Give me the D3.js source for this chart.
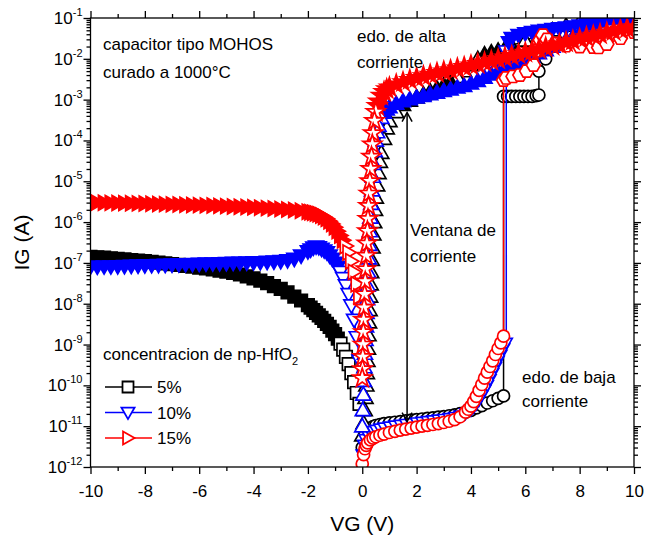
<!DOCTYPE html>
<html>
<head>
<meta charset="utf-8">
<script src="https://cdn.jsdelivr.net/npm/d3@7"></script>
<style>
  body { margin: 0; background: #fff; }
  svg { display: block; font-family: "Liberation Sans", Arial, sans-serif; }
</style>
</head>
<body>
<svg id="chart"></svg>
<script>
/* ---------- data (VG in V, IG in A) ---------- */

const x_ticks = [-10, -8, -6, -4, -2, 0, 2, 4, 6, 8, 10];
const y_exponents = [-12, -11, -10, -9, -8, -7, -6, -5, -4, -3, -2, -1];

const legend_items = [
  { label: "5%", color: "#000000", marker: "square" },
  { label: "10%", color: "#0000ff", marker: "tri_down" },
  { label: "15%", color: "#ff0000", marker: "tri_right" }
];

// 5 % -- negative sweep
const black_neg = [[-10,1.4e-7],[-9.75,1.37e-7],[-9.5,1.34e-7],[-9.25,1.3e-7],[-9,1.26e-7],[-8.75,1.22e-7],[-8.5,1.18e-7],[-8.25,1.14e-7],[-8,1.1e-7],[-7.75,1.06e-7],[-7.5,1.02e-7],[-7.25,9.7e-8],[-7,9.3e-8],[-6.75,8.9e-8],[-6.5,8.5e-8],[-6.25,8.1e-8],[-6,7.7e-8],[-5.75,7.3e-8],[-5.5,6.9e-8],[-5.25,6.5e-8],[-5,6.1e-8],[-4.75,5.7e-8],[-4.5,5.2e-8],[-4.25,4.7e-8],[-4,4.2e-8],[-3.75,3.7e-8],[-3.5,3.2e-8],[-3.25,2.7e-8],[-3,2.3e-8],[-2.75,1.9e-8],[-2.5,1.5e-8],[-2.25,1.2e-8],[-2,9.2e-9],[-1.9,8e-9],[-1.8,7e-9],[-1.7,6e-9],[-1.6,5.2e-9],[-1.5,4.5e-9],[-1.4,3.8e-9],[-1.3,3.2e-9],[-1.2,2.7e-9],[-1.1,2.2e-9],[-1,1.8e-9],[-0.9,1.4e-9],[-0.8,1.05e-9],[-0.7,7.5e-10],[-0.6,5e-10],[-0.5,3.3e-10],[-0.4,2e-10],[-0.3,1.2e-10],[-0.2,6.5e-11],[-0.1,3.5e-11]];
// 5 % -- low current state, positive sweep
const black_low = [[0,3e-12],[0.05,5e-12],[0.1,6.5e-12],[0.2,8e-12],[0.3,9e-12],[0.4,9.8e-12],[0.5,1.04e-11],[0.65,1.1e-11],[0.8,1.15e-11],[1,1.2e-11],[1.2,1.25e-11],[1.4,1.3e-11],[1.6,1.35e-11],[1.8,1.4e-11],[2,1.45e-11],[2.2,1.5e-11],[2.4,1.55e-11],[2.6,1.6e-11],[2.8,1.66e-11],[3,1.72e-11],[3.2,1.8e-11],[3.4,1.9e-11],[3.6,2.02e-11],[3.8,2.2e-11],[4,2.45e-11],[4.2,2.8e-11],[4.4,3.2e-11],[4.6,3.7e-11],[4.8,4.2e-11],[5,4.8e-11],[5.2,5.5e-11]];
// 5 % -- after switching
const black_high = [[5.2,1.2e-3],[5.35,1.2e-3],[5.5,1.2e-3],[5.65,1.2e-3],[5.8,1.2e-3],[5.95,1.2e-3],[6.1,1.2e-3],[6.25,1.2e-3],[6.4,1.25e-3],[6.5,1.3e-3],[6.5,5e-3],[6.75,1e-2],[7,2e-2],[7.5,4e-2],[8,6e-2],[8.5,8.5e-2],[9,1e-1],[9.5,1e-1],[10,1e-1]];
// 5 % -- return sweep 10 V -> 0 V
const black_ret = [[10,1e-1],[9.5,1e-1],[9,1e-1],[8.5,9.5e-2],[8,8e-2],[7.5,6.5e-2],[7,5e-2],[6.5,3.8e-2],[6,2.8e-2],[5.5,2.1e-2],[5.25,1.8e-2],[5,1.6e-2],[4.75,1.45e-2],[4.5,1.3e-2],[4.25,1e-2],[4,7e-3],[3.75,5e-3],[3.5,3.6e-3],[3.25,2.8e-3],[3,2.3e-3],[2.75,1.9e-3],[2.5,1.6e-3],[2.25,1.35e-3],[2,1.15e-3],[1.75,9.5e-4],[1.5,7.5e-4],[1.25,5e-4],[1,3e-4],[0.9,2e-4],[0.8,1.1e-4],[0.7,5e-5],[0.65,3e-5],[0.6,1.6e-5],[0.55,8e-6],[0.5,4e-6],[0.47,2e-6],[0.44,1e-6],[0.41,5e-7],[0.38,2.4e-7],[0.35,1.2e-7],[0.33,6e-8],[0.31,3e-8],[0.29,1.5e-8],[0.27,7e-9],[0.25,3.5e-9],[0.23,1.7e-9],[0.21,8e-10],[0.19,4e-10],[0.17,2e-10],[0.15,1e-10],[0.12,5e-11],[0.09,2.5e-11],[0.05,1.2e-11],[0,6e-12]];

// 10 %
const blue_neg = [[-10,8e-8],[-9.75,8e-8],[-9.5,8.1e-8],[-9.25,8.1e-8],[-9,8.2e-8],[-8.75,8.3e-8],[-8.5,8.4e-8],[-8.25,8.5e-8],[-8,8.6e-8],[-7.75,8.7e-8],[-7.5,8.8e-8],[-7.25,8.9e-8],[-7,9e-8],[-6.75,9.1e-8],[-6.5,9.2e-8],[-6.25,9.3e-8],[-6,9.4e-8],[-5.75,9.5e-8],[-5.5,9.6e-8],[-5.25,9.7e-8],[-5,9.8e-8],[-4.75,9.9e-8],[-4.5,1e-7],[-4.25,1.01e-7],[-4,1.02e-7],[-3.75,1.03e-7],[-3.5,1.05e-7],[-3.25,1.07e-7],[-3,1.1e-7],[-2.75,1.15e-7],[-2.5,1.25e-7],[-2.25,1.5e-7],[-2,1.9e-7],[-1.9,2.1e-7],[-1.8,2.35e-7],[-1.7,2.5e-7],[-1.6,2.4e-7],[-1.5,2.2e-7],[-1.4,2e-7],[-1.3,1.8e-7],[-1.2,1.5e-7],[-1.1,1.25e-7],[-1,1e-7],[-0.9,8e-8],[-0.8,6e-8],[-0.7,4.2e-8],[-0.6,2.8e-8],[-0.5,1.7e-8],[-0.4,9e-9],[-0.3,4e-9],[-0.2,1.5e-9],[-0.1,4e-10]];
const blue_low = [[0,2e-12],[0.05,3.5e-12],[0.1,4.8e-12],[0.2,6e-12],[0.3,7e-12],[0.4,7.6e-12],[0.5,8.1e-12],[0.65,8.7e-12],[0.8,9.2e-12],[1,9.8e-12],[1.2,1.03e-11],[1.4,1.08e-11],[1.6,1.13e-11],[1.8,1.18e-11],[2,1.23e-11],[2.2,1.28e-11],[2.4,1.33e-11],[2.6,1.38e-11],[2.8,1.44e-11],[3,1.5e-11],[3.2,1.58e-11],[3.4,1.68e-11],[3.6,1.82e-11],[3.8,2.05e-11],[4,2.5e-11],[4.1,2.9e-11],[4.2,3.5e-11],[4.3,4.4e-11],[4.4,5.7e-11],[4.5,7.5e-11],[4.6,1e-10],[4.7,1.4e-10],[4.8,2e-10],[4.9,2.8e-10],[5,4e-10],[5.1,5.6e-10],[5.2,8e-10],[5.3,1.1e-9]];
const blue_high = [[5.3,1.5e-2],[5.4,2.5e-2],[5.5,3.2e-2],[5.75,3.8e-2],[6,4.2e-2],[6.25,4.5e-2],[6.5,4.8e-2],[6.75,5e-2],[7,5.3e-2],[7.25,5.5e-2],[7.5,5.8e-2],[7.75,6.1e-2],[8,6.5e-2],[8.25,7.2e-2],[8.5,8e-2],[8.75,9e-2],[9,1e-1],[9.5,1e-1],[10,1e-1]];
const blue_ret = [[10,1e-1],[9.75,1e-1],[9.5,1e-1],[9.25,1e-1],[9,9.5e-2],[8.75,8e-2],[8.5,6.5e-2],[8.25,5.3e-2],[8,4.3e-2],[7.75,3.5e-2],[7.5,2.9e-2],[7.25,2.4e-2],[7,2e-2],[6.75,1.65e-2],[6.5,1.38e-2],[6.25,1.15e-2],[6,9.5e-3],[5.75,8e-3],[5.5,6.8e-3],[5.25,5.8e-3],[5,5e-3],[4.75,4.2e-3],[4.5,3.5e-3],[4.25,2.9e-3],[4,2.5e-3],[3.75,2.2e-3],[3.5,2e-3],[3.25,1.8e-3],[3,1.65e-3],[2.75,1.5e-3],[2.5,1.38e-3],[2.25,1.25e-3],[2,1.14e-3],[1.75,1.03e-3],[1.5,9.2e-4],[1.25,8e-4],[1,6.6e-4],[0.9,5.8e-4],[0.8,4.8e-4],[0.7,3.6e-4],[0.6,2.3e-4],[0.55,1.6e-4],[0.5,1e-4],[0.46,5.5e-5],[0.42,2.7e-5],[0.39,1.3e-5],[0.36,6e-6],[0.33,2.8e-6],[0.3,1.3e-6],[0.28,6e-7],[0.26,2.8e-7],[0.24,1.3e-7],[0.22,6e-8],[0.2,2.8e-8],[0.18,1.3e-8],[0.16,6e-9],[0.14,2.8e-9],[0.12,1.3e-9],[0.1,6e-10],[0.08,2.8e-10],[0.06,1.3e-10],[0.04,6e-11],[0.02,2.5e-11],[0,1e-11]];

// 15 %
const red_neg = [[-10,3e-6],[-9.75,3e-6],[-9.5,2.98e-6],[-9.25,2.96e-6],[-9,2.94e-6],[-8.75,2.92e-6],[-8.5,2.9e-6],[-8.25,2.87e-6],[-8,2.84e-6],[-7.75,2.81e-6],[-7.5,2.78e-6],[-7.25,2.75e-6],[-7,2.72e-6],[-6.75,2.69e-6],[-6.5,2.66e-6],[-6.25,2.63e-6],[-6,2.6e-6],[-5.75,2.57e-6],[-5.5,2.54e-6],[-5.25,2.5e-6],[-5,2.46e-6],[-4.75,2.42e-6],[-4.5,2.38e-6],[-4.25,2.34e-6],[-4,2.3e-6],[-3.75,2.25e-6],[-3.5,2.2e-6],[-3.25,2.15e-6],[-3,2.1e-6],[-2.75,2.04e-6],[-2.5,1.97e-6],[-2.25,1.9e-6],[-2,1.8e-6],[-1.9,1.75e-6],[-1.8,1.7e-6],[-1.7,1.63e-6],[-1.6,1.55e-6],[-1.5,1.45e-6],[-1.4,1.33e-6],[-1.3,1.2e-6],[-1.2,1.05e-6],[-1.1,9e-7],[-1,7.5e-7],[-0.9,6e-7],[-0.8,4.7e-7],[-0.7,3.6e-7],[-0.6,2.6e-7],[-0.5,1.8e-7],[-0.4,1.1e-7],[-0.3,6e-8],[-0.2,3e-8],[-0.1,1.5e-8]];
const red_low = [[0,1.2e-12],[0.05,2e-12],[0.1,2.8e-12],[0.15,3.4e-12],[0.2,3.9e-12],[0.3,4.6e-12],[0.4,5.1e-12],[0.5,5.5e-12],[0.65,6e-12],[0.8,6.4e-12],[1,7e-12],[1.2,7.5e-12],[1.4,8e-12],[1.6,8.5e-12],[1.8,9e-12],[2,9.5e-12],[2.2,1e-11],[2.4,1.05e-11],[2.6,1.1e-11],[2.8,1.16e-11],[3,1.23e-11],[3.2,1.32e-11],[3.4,1.45e-11],[3.6,1.7e-11],[3.8,2.2e-11],[3.9,2.6e-11],[4,3.1e-11],[4.1,4e-11],[4.2,5.4e-11],[4.3,7.5e-11],[4.4,1.05e-10],[4.5,1.5e-10],[4.6,2.1e-10],[4.7,2.9e-10],[4.8,4e-10],[4.9,5.7e-10],[5,8e-10],[5.1,1.1e-9],[5.2,1.6e-9]];
const red_high = [[5.2,3e-3],[5.3,3.4e-3],[5.55,3.7e-3],[5.8,4e-3],[6.05,5e-3],[6.3,7e-3],[6.45,1.6e-2],[6.55,2.9e-2],[6.65,3.8e-2],[6.8,3e-2],[7.1,2.4e-2],[7.5,2.1e-2],[8,2e-2],[8.5,1.95e-2],[8.7,1.9e-2],[9,2.3e-2],[9.5,3.2e-2],[10,4.5e-2]];
const red_ret = [[10,6e-2],[9.75,5.6e-2],[9.5,5.2e-2],[9.25,4.8e-2],[9,4.4e-2],[8.75,4e-2],[8.5,3.7e-2],[8.25,3.4e-2],[8,3.1e-2],[7.75,2.8e-2],[7.5,2.55e-2],[7.25,2.3e-2],[7,2.1e-2],[6.75,1.9e-2],[6.5,1.72e-2],[6.25,1.56e-2],[6,1.42e-2],[5.75,1.3e-2],[5.5,1.18e-2],[5.25,1.08e-2],[5,9.8e-3],[4.75,9e-3],[4.5,8.2e-3],[4.25,7.5e-3],[4,6.9e-3],[3.75,6.3e-3],[3.5,5.8e-3],[3.25,5.3e-3],[3,4.9e-3],[2.75,4.5e-3],[2.5,4.1e-3],[2.25,3.75e-3],[2,3.4e-3],[1.75,3.05e-3],[1.5,2.7e-3],[1.25,2.35e-3],[1,2e-3],[0.9,1.8e-3],[0.8,1.55e-3],[0.7,1.25e-3],[0.6,9e-4],[0.55,7e-4],[0.5,5e-4],[0.45,3e-4],[0.4,1.5e-4],[0.37,8e-5],[0.34,4e-5],[0.31,2e-5],[0.28,1e-5],[0.25,5e-6],[0.23,2.5e-6],[0.21,1.2e-6],[0.19,6e-7],[0.17,3e-7],[0.15,1.5e-7],[0.13,7e-8],[0.11,3.5e-8],[0.09,1.7e-8],[0.07,8e-9],[0.05,4e-9],[0.04,2e-9],[0.03,1e-9],[0.02,5e-10],[0.01,2.5e-10],[0,1.5e-10]];

// window arrow (V, top A, bottom A)
const arrow_v = 1.65;
const arrow_top = 4.8e-4;
const arrow_bottom = 1.3e-11;

/* ---------- basic setup ---------- */

const width = 645;
const height = 542;
const plot = { left: 90.5, right: 634, top: 18, bottom: 467 };

const svg = d3.select("#chart")
  .attr("width", width)
  .attr("height", height);

const x = d3.scaleLinear().domain([-10, 10]).range([plot.left, plot.right]);
const y = d3.scaleLog().domain([1e-12, 1e-1]).range([plot.bottom, plot.top]);

svg.append("defs").append("clipPath").attr("id", "clip")
  .append("rect")
  .attr("x", plot.left).attr("y", plot.top)
  .attr("width", plot.right - plot.left).attr("height", plot.bottom - plot.top);

/* ---------- markers ---------- */

function marker_path(kind) {
  switch (kind) {
    case "square": return "M-5,-5H5V5H-5Z";
    case "tri_down": return "M0,6L-6,-4.5L6,-4.5Z";
    case "tri_up": return "M0,-6L-6,4.5L6,4.5Z";
    case "tri_right": return "M6,0L-4.5,-6L-4.5,6Z";
    case "circle": return "M6,0A6,6 0 1,1 -6,0A6,6 0 1,1 6,0Z";
    case "hexagon": {
      const pts = d3.range(6).map(i => {
        const a = i / 6 * Math.PI * 2;
        return [Math.cos(a) * 7, Math.sin(a) * 7];
      });
      return "M" + pts.join("L") + "Z";
    }
    case "star": return d3.symbol(d3.symbolStar, 70)();
  }
}

const line = d3.line().x(d => x(d[0])).y(d => y(d[1]));

// markers packed closer than this (on a gentle slope) read as a solid band
const dense_px = 8;
const flat_px = 5;

const series = [
  { color: "#000000", segs: [
    { data: black_neg, marker: "square", dense: true },
    { data: black_low, marker: "circle", join: black_high },
    { data: black_high, marker: "circle" },
    { data: black_ret, marker: "tri_up", dense: true }
  ] },
  { color: "#0000ff", segs: [
    { data: blue_neg, marker: "tri_down", dense: true },
    { data: blue_low, marker: "tri_down", join: blue_high },
    { data: blue_high, marker: "tri_down", dense: true },
    { data: blue_ret, marker: "tri_up", dense: true }
  ] },
  { color: "#ff0000", segs: [
    { data: red_neg, marker: "tri_right", dense: true },
    { data: red_low, marker: "circle", join: red_high },
    { data: red_high, marker: "hexagon" },
    { data: red_ret, marker: "star", dense: true }
  ] }
];

function packed(data, i) {
  const px = x(data[i][0]), py = y(data[i][1]);
  return [i - 1, i + 1].some(j => {
    if (j < 0 || j >= data.length) return false;
    const dx = x(data[j][0]) - px, dy = y(data[j][1]) - py;
    return Math.hypot(dx, dy) < dense_px && Math.abs(dy) < flat_px;
  });
}

const data_layer = svg.append("g").attr("clip-path", "url(#clip)");

series.forEach(s => {
  const g = data_layer.append("g");
  s.segs.forEach(seg => {
    const pts = seg.join ? seg.data.concat([seg.join[0]]) : seg.data;
    g.append("path")
      .attr("d", line(pts))
      .attr("fill", "none")
      .attr("stroke", s.color)
      .attr("stroke-width", 1.5);
  });
  s.segs.forEach(seg => {
    const k = seg.dense ? 1.25 : 1;
    g.append("g").selectAll("path")
      .data(seg.data)
      .join("path")
      .attr("transform", d => `translate(${x(d[0])},${y(d[1])}) scale(${k})`)
      .attr("d", marker_path(seg.marker))
      .attr("fill", (d, i) => seg.dense && packed(seg.data, i) ? s.color : "#fff")
      .attr("stroke", s.color)
      .attr("stroke-width", 1.7 / k);
  });
});

/* ---------- axes ---------- */

const x_minor = d3.range(-9, 10, 2);
const y_major = y_exponents.map(e => Math.pow(10, e));
const y_minor = y_exponents.slice(0, -1).flatMap(e => d3.range(2, 10).map(m => m * Math.pow(10, e)));

function style_axis(g) {
  g.select(".domain").remove();
  g.selectAll("line").attr("stroke", "#000").attr("stroke-width", 1.3);
}

svg.append("g").attr("transform", `translate(0,${plot.bottom})`)
  .call(d3.axisBottom(x).tickValues(x_ticks).tickSize(7).tickPadding(11).tickFormat(d => String(d)))
  .call(style_axis)
  .selectAll("text").attr("font-size", 17).attr("fill", "#000").attr("font-family", "Liberation Sans, Arial, sans-serif");
svg.append("g").attr("transform", `translate(0,${plot.bottom})`)
  .call(d3.axisBottom(x).tickValues(x_minor).tickSize(4).tickFormat(""))
  .call(style_axis);
svg.append("g").attr("transform", `translate(0,${plot.top})`)
  .call(d3.axisTop(x).tickValues(x_ticks).tickSize(7).tickFormat(""))
  .call(style_axis);
svg.append("g").attr("transform", `translate(0,${plot.top})`)
  .call(d3.axisTop(x).tickValues(x_minor).tickSize(4).tickFormat(""))
  .call(style_axis);

svg.append("g").attr("transform", `translate(${plot.left},0)`)
  .call(d3.axisLeft(y).tickValues(y_major).tickSize(7).tickFormat(""))
  .call(style_axis);
svg.append("g").attr("transform", `translate(${plot.left},0)`)
  .call(d3.axisLeft(y).tickValues(y_minor).tickSize(4).tickFormat(""))
  .call(style_axis);
svg.append("g").attr("transform", `translate(${plot.right},0)`)
  .call(d3.axisRight(y).tickValues(y_major).tickSize(7).tickFormat(""))
  .call(style_axis);
svg.append("g").attr("transform", `translate(${plot.right},0)`)
  .call(d3.axisRight(y).tickValues(y_minor).tickSize(4).tickFormat(""))
  .call(style_axis);

// y tick labels as 10^n
const y_labels = svg.append("g");
y_exponents.forEach(e => {
  const t = y_labels.append("text")
    .attr("x", plot.left - 8)
    .attr("y", y(Math.pow(10, e)) + 6)
    .attr("text-anchor", "end")
    .attr("font-size", 17);
  t.append("tspan").text("10");
  t.append("tspan").attr("dy", -8).attr("font-size", 11).text(String(e));
});

svg.append("rect")
  .attr("x", plot.left).attr("y", plot.top)
  .attr("width", plot.right - plot.left).attr("height", plot.bottom - plot.top)
  .attr("fill", "none").attr("stroke", "#000").attr("stroke-width", 1.3);

svg.append("text")
  .attr("x", (plot.left + plot.right) / 2).attr("y", 531)
  .attr("text-anchor", "middle").attr("font-size", 21)
  .text("VG (V)");
svg.append("text")
  .attr("transform", `translate(29,${(plot.top + plot.bottom) / 2}) rotate(-90)`)
  .attr("text-anchor", "middle").attr("font-size", 21)
  .text("IG (A)");

/* ---------- annotations ---------- */

const notes = [
  { x: 103, y: 50, text: "capacitor tipo MOHOS" },
  { x: 103, y: 78, text: "curado a 1000°C" },
  { x: 357, y: 42, text: "edo. de alta" },
  { x: 357, y: 68, text: "corriente" },
  { x: 410, y: 236, text: "Ventana de" },
  { x: 410, y: 262, text: "corriente" },
  { x: 522, y: 383, text: "edo. de baja" },
  { x: 522, y: 407, text: "corriente" }
];
svg.append("g").selectAll("text")
  .data(notes)
  .join("text")
  .attr("x", d => d.x).attr("y", d => d.y)
  .attr("font-size", 17)
  .text(d => d.text);

// double arrow for the current window
const ax_ = x(arrow_v), ay1 = y(arrow_top), ay2 = y(arrow_bottom);
const arrow = svg.append("g").attr("stroke", "#000").attr("stroke-width", 1.5).attr("fill", "none");
arrow.append("line").attr("x1", ax_).attr("x2", ax_).attr("y1", ay1).attr("y2", ay2);
arrow.append("path").attr("d", `M${ax_ - 5},${ay1 + 9}L${ax_},${ay1}L${ax_ + 5},${ay1 + 9}`);
arrow.append("path").attr("d", `M${ax_ - 5},${ay2 - 9}L${ax_},${ay2}L${ax_ + 5},${ay2 - 9}`);

/* ---------- legend ---------- */

const legend = svg.append("g");
const title = legend.append("text").attr("x", 103).attr("y", 360).attr("font-size", 17);
title.append("tspan").text("concentracion de np-HfO");
title.append("tspan").attr("dy", 5).attr("font-size", 11).text("2");

legend_items.forEach((d, i) => {
  const cy = 387 + i * 25.5;
  legend.append("line")
    .attr("x1", 105).attr("x2", 152).attr("y1", cy).attr("y2", cy)
    .attr("stroke", d.color).attr("stroke-width", 1.5);
  legend.append("path")
    .attr("transform", `translate(128,${cy}) scale(1.1)`)
    .attr("d", marker_path(d.marker))
    .attr("fill", "#fff").attr("stroke", d.color).attr("stroke-width", 1.6);
  legend.append("text")
    .attr("x", 157).attr("y", cy + 6).attr("font-size", 17)
    .text(d.label);
});
</script>
</body>
</html>
